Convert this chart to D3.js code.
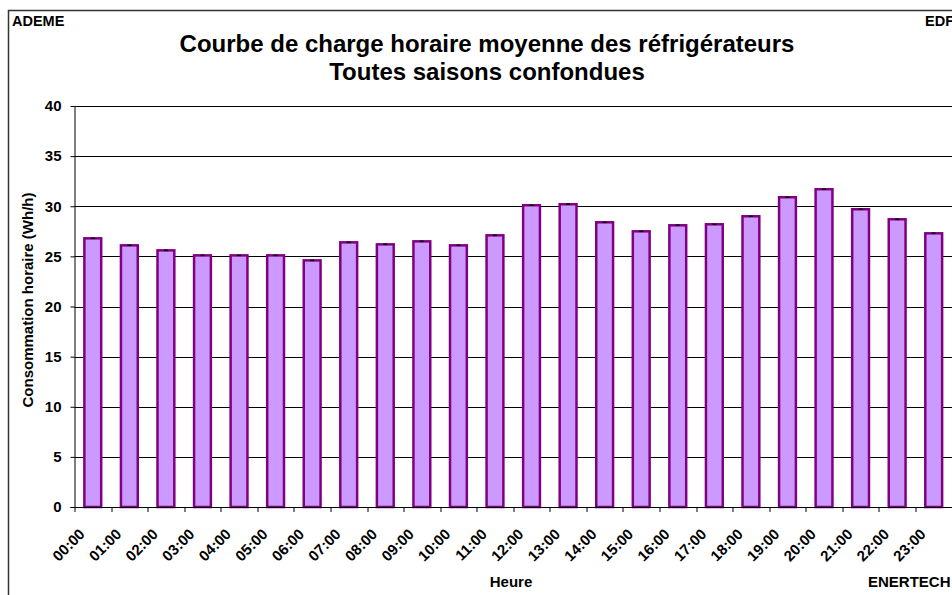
<!DOCTYPE html>
<html>
<head>
<meta charset="utf-8">
<script src="https://cdn.jsdelivr.net/npm/d3@7"></script>
<style>
  body { margin: 0; background: #fff; }
  text { font-family: "Liberation Sans", Arial, sans-serif; font-weight: bold; fill: #000; }
</style>
</head>
<body>
<div id="chart"></div>
<script>
// hourly mean load curve of refrigerators (Wh/h)
var hours = ["00:00","01:00","02:00","03:00","04:00","05:00","06:00","07:00",
             "08:00","09:00","10:00","11:00","12:00","13:00","14:00","15:00",
             "16:00","17:00","18:00","19:00","20:00","21:00","22:00","23:00"];
var consumption = [26.8, 26.1, 25.6, 25.1, 25.1, 25.1, 24.6, 26.4,
                   26.2, 26.5, 26.1, 27.1, 30.1, 30.2, 28.4, 27.5,
                   28.1, 28.2, 29.0, 30.9, 31.7, 29.7, 28.7, 27.3];
var yTicks = [0, 5, 10, 15, 20, 25, 30, 35, 40];

var W = 952, H = 595;
var margin = { top: 106, right: 0, bottom: 88, left: 74.5 };
var width = W - margin.left - margin.right,
    height = H - margin.top - margin.bottom;

var svg = d3.select("#chart").append("svg")
    .attr("width", W)
    .attr("height", H);

// outer frame (only top and left are visible in the crop)
svg.append("path")
    .attr("d", "M8.5," + H + "V10.5H" + W)
    .attr("fill", "none")
    .attr("stroke", "#333")
    .attr("stroke-width", 1.5);

svg.append("text").attr("x", 12).attr("y", 26)
    .style("font-size", "14.5px").text("ADEME");
svg.append("text").attr("x", 925).attr("y", 26)
    .style("font-size", "14.5px").text("EDF");

svg.append("text").attr("x", 487).attr("y", 52)
    .attr("text-anchor", "middle").style("font-size", "24px")
    .text("Courbe de charge horaire moyenne des réfrigérateurs");
svg.append("text").attr("x", 487).attr("y", 80)
    .attr("text-anchor", "middle").style("font-size", "24px")
    .text("Toutes saisons confondues");

var g = svg.append("g")
    .attr("transform", "translate(" + margin.left + "," + margin.top + ")");

var x = d3.scaleBand()
    .domain(hours)
    .range([0, width])
    .paddingInner(0.54)
    .paddingOuter(0.27);

var y = d3.scaleLinear()
    .domain([0, 40])
    .range([height, 0]);

// gridlines
g.selectAll(".grid")
    .data(yTicks.slice(1))
    .enter().append("line")
    .attr("x1", 0).attr("x2", width)
    .attr("y1", function(d) { return Math.round(y(d)) + 0.5; })
    .attr("y2", function(d) { return Math.round(y(d)) + 0.5; })
    .attr("stroke", "#000")
    .attr("stroke-width", 1);

// bars
g.selectAll(".bar")
    .data(consumption)
    .enter().append("rect")
    .attr("x", function(d, i) { return x(hours[i]); })
    .attr("y", function(d) { return y(d); })
    .attr("width", x.bandwidth())
    .attr("height", function(d) { return height - y(d); })
    .attr("fill", "#cc99ff")
    .attr("stroke", "#800080")
    .attr("stroke-width", 2.5);

// small black marks on top of each bar
g.selectAll(".cap")
    .data(consumption)
    .enter().append("line")
    .attr("x1", function(d, i) { return x(hours[i]) + x.bandwidth() / 2 - 2; })
    .attr("x2", function(d, i) { return x(hours[i]) + x.bandwidth() / 2 + 2; })
    .attr("y1", function(d) { return y(d); })
    .attr("y2", function(d) { return y(d); })
    .attr("stroke", "#000")
    .attr("stroke-width", 1.5);

// y axis
var yAxis = g.append("g")
    .call(d3.axisLeft(y).tickValues(yTicks).tickSize(4).tickPadding(9));
yAxis.select(".domain").attr("stroke", "#000").attr("d", "M0.5,0V" + height);
yAxis.selectAll("text").style("font-size", "15px").style("font-family", "Liberation Sans, Arial, sans-serif");

// x axis, ticks between the bands
var xAxis = g.append("g")
    .attr("transform", "translate(0," + height + ")");
xAxis.append("line")
    .attr("x1", -4).attr("x2", width)
    .attr("y1", 0.5).attr("y2", 0.5)
    .attr("stroke", "#000");
xAxis.selectAll(".xtick")
    .data(d3.range(hours.length + 1))
    .enter().append("line")
    .attr("x1", function(d) { return Math.round(d * x.step()) + 0.5; })
    .attr("x2", function(d) { return Math.round(d * x.step()) + 0.5; })
    .attr("y1", 0).attr("y2", 5)
    .attr("stroke", "#000");
xAxis.selectAll(".xlabel")
    .data(hours)
    .enter().append("text")
    .attr("text-anchor", "end")
    .attr("transform", function(d) {
        return "translate(" + (x(d) + x.bandwidth() / 2 - 7) + ",28) rotate(-45)";
    })
    .style("font-size", "15px")
    .text(function(d) { return d; });

// axis titles
svg.append("text")
    .attr("transform", "translate(33,300) rotate(-90)")
    .attr("text-anchor", "middle")
    .style("font-size", "15px")
    .text("Consommation horaire (Wh/h)");
svg.append("text").attr("x", 511).attr("y", 587)
    .attr("text-anchor", "middle").style("font-size", "15px")
    .text("Heure");
svg.append("text").attr("x", 868).attr("y", 587)
    .style("font-size", "15px").text("ENERTECH");
</script>
</body>
</html>
